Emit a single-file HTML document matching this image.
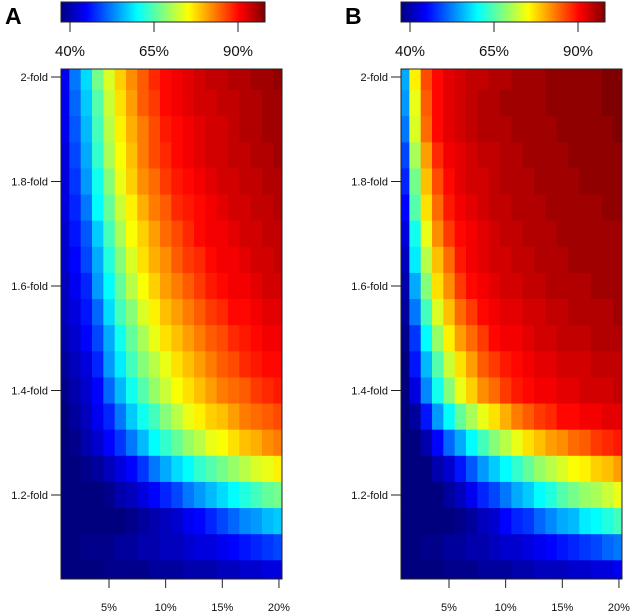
<!DOCTYPE html>
<html><head><meta charset="utf-8">
<style>
html,body{margin:0;padding:0;background:#fff;}
svg{display:block;font-family:"Liberation Sans",sans-serif;}
</style></head>
<body>
<svg id="chart" width="630" height="616" viewBox="0 0 630 616" xmlns="http://www.w3.org/2000/svg">
<defs>
<linearGradient id="jet" x1="0" x2="1" y1="0" y2="0">
<stop offset="0" stop-color="#00007F"/><stop offset="0.125" stop-color="#0000FF"/><stop offset="0.25" stop-color="#007FFF"/><stop offset="0.375" stop-color="#00FFFF"/><stop offset="0.5" stop-color="#7FFF7F"/><stop offset="0.625" stop-color="#FFFF00"/><stop offset="0.75" stop-color="#FF7F00"/><stop offset="0.875" stop-color="#FF0000"/><stop offset="1" stop-color="#7F0000"/>
</linearGradient>
<clipPath id="clipA"><rect x="61" y="69" width="221" height="510"/></clipPath>
<clipPath id="clipB"><rect x="401" y="69" width="221" height="510"/></clipPath>
</defs>
</svg>
<script>
const pValues = [1,2,3,4,5,6,7,8,9,10,11,12,13,14,15,16,17,18,19,20];
const foldValues = [2.0,1.95,1.9,1.85,1.8,1.75,1.7,1.65,1.6,1.55,1.5,1.45,1.4,1.35,1.3,1.25,1.2,1.15,1.1,1.05];
const xTickValues = [5,10,15,20];
const xTickLabels = ["5%","10%","15%","20%"];
const yTickValues = [2.0,1.8,1.6,1.4,1.2];
const yTickLabels = ["2-fold","1.8-fold","1.6-fold","1.4-fold","1.2-fold"];
const colorbarTickValues = [40,65,90];
const colorbarTickLabels = ["40%","65%","90%"];
const powerA = [
[44,52,58,67,73,78,82,85,88,90,91,92,93,94,94,95,95,96,96,97],
[44,51,57,65,72,77,81,85,87,90,91,92,93,93,94,94,95,95,96,96],
[44,50,56,64,71,76,80,83,86,89,90,91,92,93,93,94,95,95,96,96],
[43,49,55,63,70,75,79,83,86,88,90,91,92,93,93,94,94,95,95,96],
[43,48,54,61,68,74,78,82,84,87,89,90,91,92,93,93,94,94,95,95],
[43,47,52,60,66,72,76,80,83,85,88,89,90,91,92,93,93,94,94,95],
[42,46,50,57,64,70,75,78,81,84,86,88,90,91,91,92,93,93,94,94],
[42,45,49,55,62,68,73,77,80,82,85,87,88,90,91,91,92,93,93,94],
[41,44,47,54,60,66,71,75,78,81,83,85,87,89,90,91,91,92,93,93],
[41,43,46,51,58,64,68,73,76,79,81,83,85,87,88,90,90,91,92,92],
[40,42,45,49,55,61,66,70,74,77,79,81,83,85,86,88,89,90,91,91],
[39,41,43,47,54,59,64,68,71,74,77,79,81,83,85,86,88,89,90,90],
[38,40,42,45,51,56,61,65,69,72,75,77,79,81,83,84,85,87,88,89],
[37,39,41,44,47,52,57,61,64,68,71,74,76,78,79,81,83,84,85,86],
[37,38,40,42,45,48,52,56,60,63,66,69,71,74,75,77,79,80,82,83],
[36,37,38,39,41,43,45,48,52,55,58,60,63,65,67,69,71,73,74,76],
[36,36,37,37,38,40,41,43,45,47,49,52,54,56,58,60,62,64,66,67],
[35,35,36,36,37,37,38,39,40,41,42,44,45,47,49,51,53,54,56,57],
[37,37,38,38,38,39,39,40,40,41,41,42,43,43,44,45,46,47,48,49],
[37,37,37,37,38,38,38,38,39,39,39,40,40,40,41,41,42,42,43,43]
];
const powerB = [
[55,76,86,90,92,93,94,94,95,95,96,96,96,97,97,97,97,97,98,98],
[54,74,85,90,92,93,94,95,95,96,96,96,96,97,97,97,97,97,98,98],
[52,73,84,90,92,93,94,95,95,95,96,96,96,96,97,97,97,97,97,98],
[49,70,81,88,91,92,93,94,94,95,95,96,96,96,96,97,97,97,97,97],
[47,67,79,86,90,92,93,93,94,95,95,95,96,96,96,96,97,97,97,97],
[45,65,77,84,89,91,92,93,94,94,95,95,95,96,96,96,96,96,97,97],
[43,61,74,82,87,90,91,92,93,94,94,95,95,95,96,96,96,96,96,96],
[41,59,71,79,84,89,91,92,93,93,94,94,95,95,95,96,96,96,96,96],
[40,55,68,77,82,87,90,91,92,93,93,94,94,95,95,95,95,96,96,96],
[39,52,64,73,79,84,87,90,91,92,92,93,93,94,94,95,95,95,95,96],
[38,48,60,69,76,81,84,87,90,91,91,92,93,93,94,94,94,95,95,95],
[37,46,56,65,72,77,81,85,87,89,90,91,92,92,93,93,93,94,94,94],
[36,43,53,61,68,74,78,82,84,87,89,90,91,91,92,92,93,93,93,94],
[36,39,46,54,60,66,70,74,77,80,83,85,87,88,90,90,91,91,92,92],
[35,37,40,45,51,55,60,64,68,71,74,77,79,81,82,84,85,87,88,89],
[35,36,37,40,42,46,50,54,57,60,63,66,69,71,73,75,76,78,79,81],
[34,35,36,37,39,41,44,47,49,52,55,57,60,62,65,67,69,70,72,74],
[34,35,35,36,36,38,39,41,42,45,47,48,51,53,55,56,59,60,62,64],
[37,37,38,38,39,39,40,40,41,42,42,43,44,45,46,47,48,49,51,52],
[37,37,37,37,38,38,38,39,39,39,40,40,41,41,41,42,42,43,43,44]
];

const NS = "http://www.w3.org/2000/svg";
const svg = document.getElementById('chart');
const zMin = 37.3, zMax = 98;
const jetStops = [[0,0,127],[0,0,255],[0,127,255],[0,255,255],[127,255,127],[255,255,0],[255,127,0],[255,0,0],[127,0,0]];
function jet(v){
  let t = (v - zMin) / (zMax - zMin);
  t = Math.max(0, Math.min(1, t)) * 8;
  const i = Math.min(7, Math.floor(t)), f = t - i;
  const a = jetStops[i], b = jetStops[i+1];
  return 'rgb(' + [0,1,2].map(k => Math.round(a[k] + (b[k]-a[k])*f)).join(',') + ')';
}
function mk(tag, attrs, parent){
  const e = document.createElementNS(NS, tag);
  for (const k in attrs) e.setAttribute(k, attrs[k]);
  (parent || svg).appendChild(e);
  return e;
}

function drawPanel(offset, letter, data, clipId){
  const xScale = p => offset + 109 + (p - 5) * 11.33;
  const yScale = f => 77 + (2 - f) * 522.5;
  const cbScale = v => offset + 70 + (v - 40) * 3.36;

  const g = mk('g', {});
  
  

  const lab = mk('text', {x: offset + 5, y: 24, 'font-size': 23, 'font-weight': 'bold', fill: '#000'}, g);
  lab.textContent = letter;
  
  

  const cb = mk('rect', {x: offset + 61, y: 2, width: 204, height: 20, fill: 'url(#jet)', stroke: '#222', 'stroke-width': 1}, g);
  
  
  colorbarTickValues.forEach((v, i) => {
    const x = cbScale(v);
    const t = mk('line', {x1: x, x2: x, y1: 22, y2: 32, stroke: '#222', 'stroke-width': 1}, g);
    
    
    const tx = mk('text', {x: x, y: 56, 'font-size': 15, 'text-anchor': 'middle', fill: '#111'}, g);
    tx.textContent = colorbarTickLabels[i];
    
    
  });

  const cells = mk('g', {'clip-path': 'url(#' + clipId + ')'}, g);
  
  
  foldValues.forEach((f, r) => {
    pValues.forEach((p, c) => {
      const x0 = xScale(p - 0.5), x1 = xScale(p + 0.5);
      const y0 = yScale(f + 0.025), y1 = yScale(f - 0.025);
      const cell = mk('rect', {x: x0, y: y0, width: x1 - x0 + 0.4, height: y1 - y0 + 0.4, fill: jet(data[r][c])}, cells);
      
      
    });
  });
  const frame = mk('rect', {x: offset + 61, y: 69, width: 221, height: 510, fill: 'none', stroke: '#222', 'stroke-width': 1}, g);
  
  

  xTickValues.forEach((v, i) => {
    const x = xScale(v);
    const t = mk('line', {x1: x, x2: x, y1: 579, y2: 588, stroke: '#222', 'stroke-width': 1}, g);
    
    
    const tx = mk('text', {x: x, y: 611, 'font-size': 11, 'text-anchor': 'middle', fill: '#111'}, g);
    tx.textContent = xTickLabels[i];
    
    
  });
  yTickValues.forEach((v, i) => {
    const y = yScale(v);
    const t = mk('line', {x1: offset + 51, x2: offset + 61, y1: y, y2: y, stroke: '#222', 'stroke-width': 1}, g);
    
    
    const tx = mk('text', {x: offset + 48, y: y + 4, 'font-size': 11, 'text-anchor': 'end', fill: '#111'}, g);
    tx.textContent = yTickLabels[i];
    
    
  });
}
drawPanel(0, 'A', powerA, 'clipA');
drawPanel(340, 'B', powerB, 'clipB');
</script>
</body></html>
